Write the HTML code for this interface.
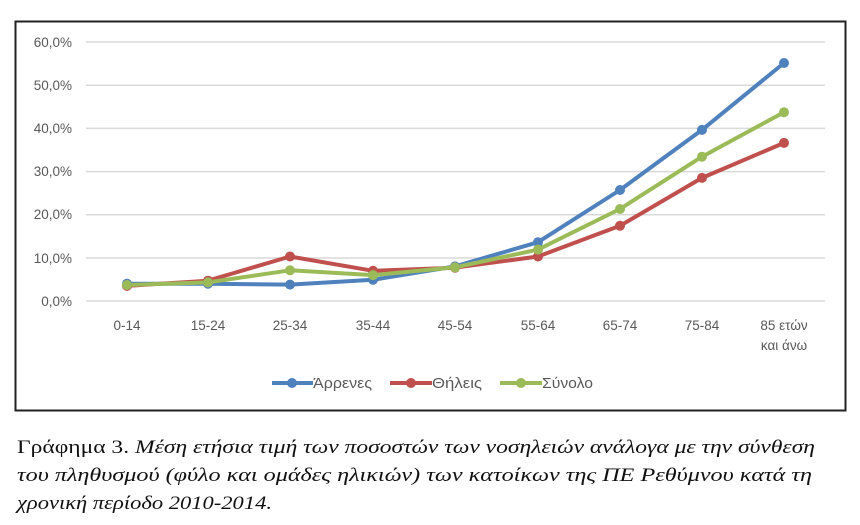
<!DOCTYPE html>
<html><head><meta charset="utf-8"><style>body{margin:0;background:#fff}svg{display:block}</style></head><body>
<svg width="860" height="525" xmlns="http://www.w3.org/2000/svg" font-family="Liberation Sans, DejaVu Sans, sans-serif">
<rect x="15.5" y="21.5" width="830" height="389" fill="#fff" stroke="#222" stroke-width="2"/>
<g stroke="#d9d9d9" stroke-width="1.5">
<line x1="86" x2="825" y1="42" y2="42"/><line x1="86" x2="825" y1="85.2" y2="85.2"/><line x1="86" x2="825" y1="128.4" y2="128.4"/><line x1="86" x2="825" y1="171.6" y2="171.6"/><line x1="86" x2="825" y1="214.8" y2="214.8"/><line x1="86" x2="825" y1="258" y2="258"/><line x1="86" x2="825" y1="301" y2="301"/>
</g>
<g font-size="13.5" fill="#595959" text-anchor="end">
<text x="72" y="47">60,0%</text><text x="72" y="90">50,0%</text><text x="72" y="133">40,0%</text><text x="72" y="176">30,0%</text><text x="72" y="219">20,0%</text><text x="72" y="263">10,0%</text><text x="72" y="306">0,0%</text>
</g>
<g font-size="13.5" fill="#595959" text-anchor="middle">
<text x="127" y="330">0-14</text><text x="208" y="330">15-24</text><text x="290" y="330">25-34</text><text x="373" y="330">35-44</text><text x="455" y="330">45-54</text><text x="538" y="330">55-64</text><text x="620" y="330">65-74</text><text x="702" y="330">75-84</text><text x="784" y="330">85 ετών</text><text x="784" y="350">και άνω</text>
</g>
<g fill="none" stroke-width="4" stroke-linejoin="round">
<polyline stroke="#4f81bd" points="127,283.7 208,283.7 290,284.6 373,279.8 455,266.4 538,242.2 620,190 702,129.9 784,63"/>
<polyline stroke="#c0504d" points="127,285.9 208,280.7 290,256.5 373,270.8 455,267.7 538,256.5 620,225.8 702,177.9 784,142.9"/>
<polyline stroke="#9bbb59" points="127,285 208,282.4 290,270.3 373,275.1 455,267.3 538,249.6 620,209 702,156.7 784,112.2"/>
</g>
<g fill="#4f81bd"><circle cx="127" cy="283.7" r="5"/><circle cx="208" cy="283.7" r="5"/><circle cx="290" cy="284.6" r="5"/><circle cx="373" cy="279.8" r="5"/><circle cx="455" cy="266.4" r="5"/><circle cx="538" cy="242.2" r="5"/><circle cx="620" cy="190" r="5"/><circle cx="702" cy="129.9" r="5"/><circle cx="784" cy="63" r="5"/></g>
<g fill="#c0504d"><circle cx="127" cy="285.9" r="5"/><circle cx="208" cy="280.7" r="5"/><circle cx="290" cy="256.5" r="5"/><circle cx="373" cy="270.8" r="5"/><circle cx="455" cy="267.7" r="5"/><circle cx="538" cy="256.5" r="5"/><circle cx="620" cy="225.8" r="5"/><circle cx="702" cy="177.9" r="5"/><circle cx="784" cy="142.9" r="5"/></g>
<g fill="#9bbb59"><circle cx="127" cy="285" r="5"/><circle cx="208" cy="282.4" r="5"/><circle cx="290" cy="270.3" r="5"/><circle cx="373" cy="275.1" r="5"/><circle cx="455" cy="267.3" r="5"/><circle cx="538" cy="249.6" r="5"/><circle cx="620" cy="209" r="5"/><circle cx="702" cy="156.7" r="5"/><circle cx="784" cy="112.2" r="5"/></g>
<g font-size="15" fill="#595959">
<line x1="272" x2="313" y1="383" y2="383" stroke="#4f81bd" stroke-width="4"/><circle cx="292" cy="383" r="5" fill="#4f81bd"/><text x="313" y="388" textLength="59" lengthAdjust="spacingAndGlyphs">Άρρενες</text>
<line x1="390" x2="432" y1="383" y2="383" stroke="#c0504d" stroke-width="4"/><circle cx="411" cy="383" r="5" fill="#c0504d"/><text x="432" y="388" textLength="50" lengthAdjust="spacingAndGlyphs">Θήλεις</text>
<line x1="500" x2="542" y1="383" y2="383" stroke="#9bbb59" stroke-width="4"/><circle cx="521" cy="383" r="5" fill="#9bbb59"/><text x="542" y="388" textLength="51" lengthAdjust="spacingAndGlyphs">Σύνολο</text>
</g>
<g font-family="Liberation Serif, DejaVu Serif, serif" font-size="19" fill="#111">
<text x="17" y="453" textLength="798" lengthAdjust="spacingAndGlyphs">Γράφημα 3. <tspan font-style="italic">Μέση ετήσια τιμή των ποσοστών των νοσηλειών ανάλογα με την σύνθεση</tspan></text>
<text x="17" y="481" textLength="795" lengthAdjust="spacingAndGlyphs" font-style="italic">του πληθυσμού  (φύλο και ομάδες ηλικιών) των κατοίκων της ΠΕ Ρεθύμνου κατά τη</text>
<text x="17" y="509" textLength="255" lengthAdjust="spacingAndGlyphs" font-style="italic">χρονική περίοδο 2010-2014.</text>
</g>
</svg>
</body></html>
